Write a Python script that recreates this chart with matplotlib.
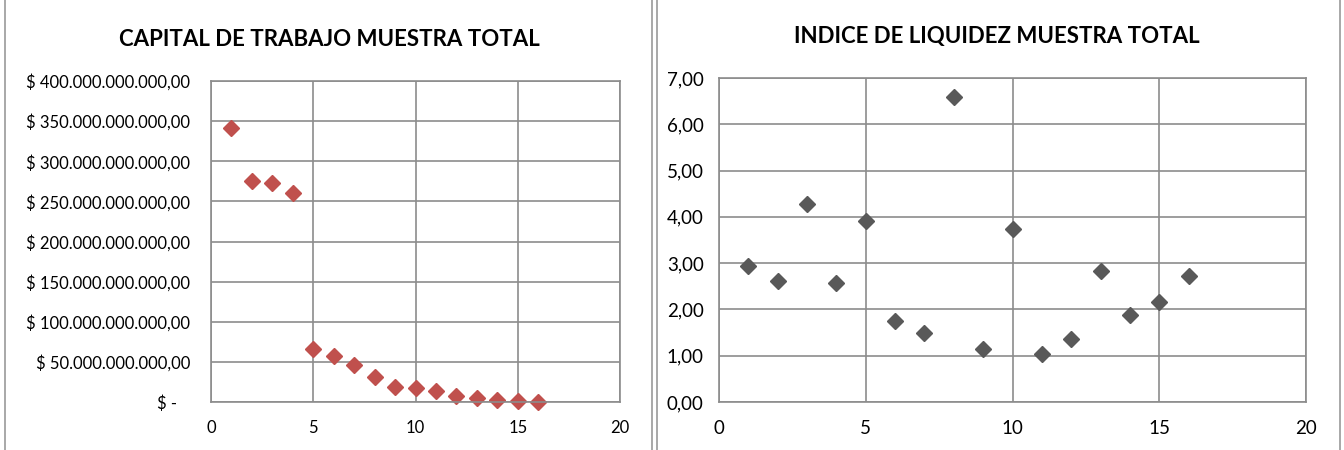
import matplotlib.pyplot as plt
from matplotlib.ticker import FuncFormatter
from matplotlib.lines import Line2D

# datos
muestra = list(range(1, 17))
capital_trabajo = [341e9, 276e9, 273e9, 260e9, 66e9, 57e9, 46e9, 31e9,
                   19e9, 17.5e9, 13.5e9, 7.5e9, 5e9, 2e9, 1.5e9, 0]
indice_liquidez = [2.94, 2.61, 4.28, 2.58, 3.91, 1.74, 1.48, 6.59,
                   1.14, 3.74, 1.04, 1.36, 2.82, 1.87, 2.16, 2.73]

titulo_izq = 'CAPITAL DE TRABAJO MUESTRA TOTAL'
titulo_der = 'INDICE DE LIQUIDEZ MUESTRA TOTAL'

plt.rcParams['font.family'] = ['Lato', 'DejaVu Sans']

fig = plt.figure(figsize=(13.44, 4.5), dpi=100)
W, H = 1344, 450


def caja(l, t, r, b):
    return [l / W, 1 - b / H, (r - l) / W, (b - t) / H]


def pesos(v, pos):
    if v == 0:
        return '$ -   '
    s = f'{v:,.2f}'.replace(',', 'X').replace('.', ',').replace('X', '.')
    return '$ ' + s


def coma(v, pos):
    return f'{v:.2f}'.replace('.', ',')


def estilo(ax, tam):
    ax.grid(True, color='#8c8c8c', linewidth=1.2)
    ax.set_axisbelow(True)
    for s in ax.spines.values():
        s.set_color('#8c8c8c')
        s.set_linewidth(1.2)
    ax.tick_params(length=0, labelsize=tam, colors='black')
    ax.tick_params(axis='x', pad=13)
    ax.set_xlim(0, 20)
    ax.set_xticks([0, 5, 10, 15, 20])


ax1 = fig.add_axes(caja(211, 81, 620, 402))
ax1.plot(muestra, capital_trabajo, 'D', color='#c0504d', markersize=8, clip_on=False)
estilo(ax1, 12)
ax1.tick_params(axis='y', pad=15)
ax1.set_ylim(0, 400e9)
ax1.set_yticks([i * 50e9 for i in range(9)])
ax1.yaxis.set_major_formatter(FuncFormatter(pesos))

ax2 = fig.add_axes(caja(719, 78, 1306, 402))
ax2.plot(muestra, indice_liquidez, 'D', color='#595959', markersize=8, clip_on=False)
estilo(ax2, 13.5)
ax2.tick_params(axis='y', pad=11)
ax2.set_ylim(0, 7)
ax2.set_yticks(range(8))
ax2.yaxis.set_major_formatter(FuncFormatter(coma))

# titulos centrados en cada area de grafico
fig.text(329 / W, 1 - 40 / H, titulo_izq, ha='center', va='center',
         fontsize=16, fontweight='bold')
fig.text(997 / W, 1 - 37 / H, titulo_der, ha='center', va='center',
         fontsize=16, fontweight='bold')

# bordes de los graficos
for x in (5, 652, 657, 1340):
    fig.add_artist(Line2D([x / W, x / W], [0, 1], color='#9a9a9a', linewidth=1.2))

fig.savefig('out.png', dpi=100)
